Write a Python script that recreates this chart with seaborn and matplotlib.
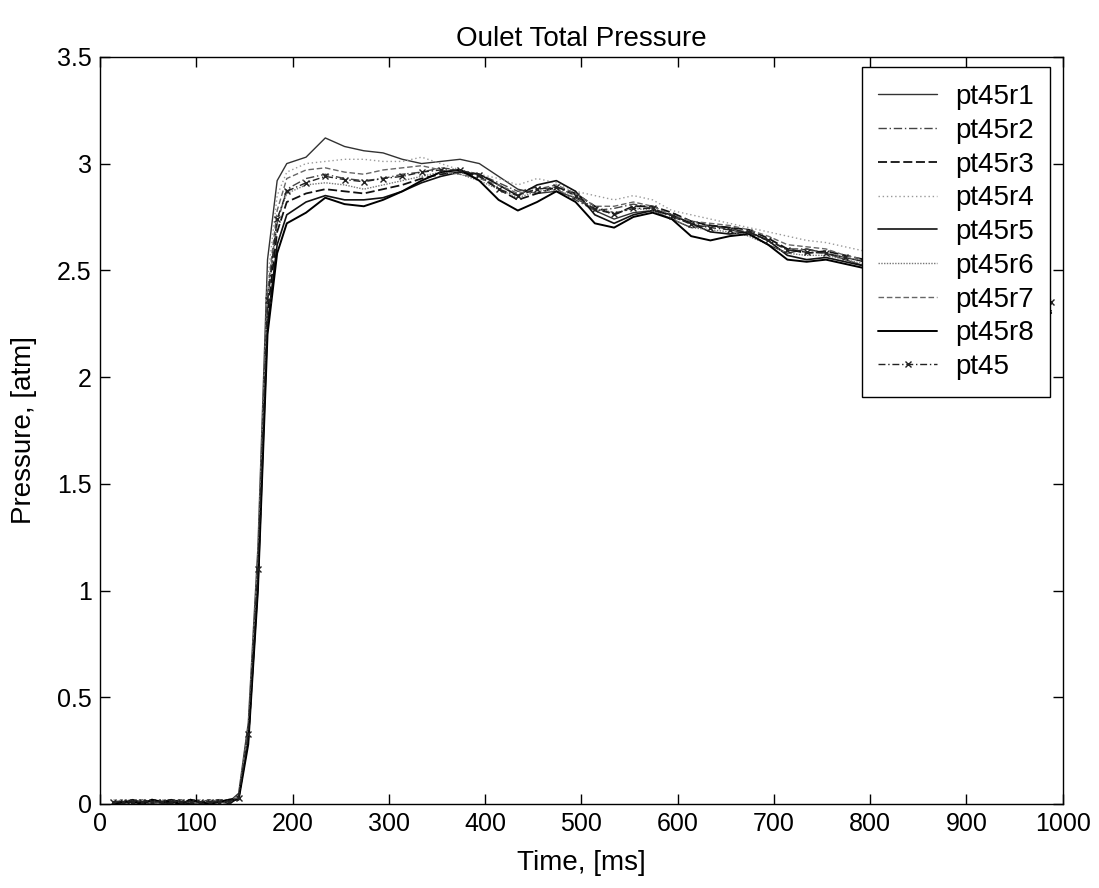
import numpy as np
import pandas as pd
import matplotlib
matplotlib.use("Agg")
import matplotlib.pyplot as plt
import seaborn as sns

# ---- data ----
time_early = [14, 24, 34, 44, 54, 64, 74, 84, 94, 104, 114, 124, 134,
              144, 154, 164, 174, 184, 194]
time_late = [214, 234, 254, 274, 294, 314, 334, 354, 374, 394, 414, 434, 454,
             474, 494, 514, 534, 554, 574, 594, 614, 634, 654, 674, 694, 714,
             734, 754, 774, 794, 814, 834, 854, 874, 894, 914, 934, 954, 974, 988]
time_ms = time_early + time_late

pt45r1 = [0.01, 0.00, 0.02, 0.01, 0.00, 0.01, 0.02, 0.00, 0.01, 0.01, 0.00, 0.02, 0.01,
          0.05, 0.38, 1.20, 2.55, 2.92, 3.00,
          3.03, 3.12, 3.08, 3.06, 3.05, 3.02, 3.00, 3.01, 3.02, 3.00, 2.94, 2.88, 2.86,
          2.87, 2.84, 2.78, 2.74, 2.77, 2.78, 2.74, 2.70, 2.71, 2.70, 2.67, 2.62, 2.58,
          2.60, 2.58, 2.55, 2.52, 2.50, 2.49, 2.46, 2.44, 2.43, 2.41, 2.39, 2.37, 2.35, 2.34]
pt45r2 = [0.00, 0.01, 0.01, 0.02, 0.01, 0.00, 0.01, 0.02, 0.00, 0.01, 0.02, 0.01, 0.00,
          0.03, 0.33, 1.10, 2.35, 2.72, 2.88,
          2.93, 2.95, 2.93, 2.92, 2.93, 2.95, 2.96, 2.98, 2.97, 2.95, 2.91, 2.87, 2.89,
          2.88, 2.83, 2.78, 2.79, 2.81, 2.79, 2.75, 2.72, 2.71, 2.69, 2.67, 2.64, 2.60,
          2.60, 2.58, 2.56, 2.54, 2.52, 2.50, 2.48, 2.46, 2.44, 2.42, 2.40, 2.38, 2.36, 2.35]
pt45r3 = [0.01, 0.01, 0.00, 0.01, 0.02, 0.01, 0.00, 0.01, 0.02, 0.00, 0.01, 0.01, 0.02,
          0.03, 0.30, 1.05, 2.30, 2.68, 2.82,
          2.86, 2.88, 2.87, 2.86, 2.88, 2.90, 2.93, 2.95, 2.96, 2.94, 2.88, 2.83, 2.86,
          2.89, 2.86, 2.80, 2.76, 2.80, 2.80, 2.77, 2.73, 2.71, 2.70, 2.69, 2.65, 2.60,
          2.58, 2.59, 2.57, 2.55, 2.52, 2.50, 2.48, 2.46, 2.44, 2.42, 2.40, 2.38, 2.37, 2.36]
pt45r4 = [0.02, 0.01, 0.00, 0.01, 0.01, 0.02, 0.01, 0.00, 0.01, 0.02, 0.01, 0.00, 0.01,
          0.04, 0.35, 1.15, 2.45, 2.85, 2.96,
          3.00, 3.01, 3.02, 3.02, 3.01, 3.01, 3.03, 3.00, 2.97, 2.95, 2.93, 2.90, 2.93,
          2.91, 2.87, 2.85, 2.83, 2.85, 2.83, 2.78, 2.76, 2.74, 2.72, 2.70, 2.68, 2.66,
          2.64, 2.63, 2.61, 2.59, 2.57, 2.55, 2.53, 2.51, 2.49, 2.47, 2.45, 2.43, 2.42, 2.41]
pt45r5 = [0.00, 0.01, 0.02, 0.00, 0.01, 0.01, 0.02, 0.01, 0.00, 0.01, 0.01, 0.02, 0.00,
          0.03, 0.30, 1.02, 2.25, 2.62, 2.76,
          2.82, 2.85, 2.83, 2.83, 2.84, 2.87, 2.91, 2.94, 2.96, 2.95, 2.90, 2.85, 2.90,
          2.92, 2.87, 2.76, 2.72, 2.76, 2.78, 2.76, 2.72, 2.68, 2.67, 2.68, 2.64, 2.57,
          2.55, 2.56, 2.54, 2.52, 2.50, 2.48, 2.46, 2.44, 2.41, 2.39, 2.37, 2.35, 2.33, 2.31]
pt45r6 = [0.01, 0.02, 0.01, 0.00, 0.01, 0.02, 0.00, 0.01, 0.01, 0.00, 0.02, 0.01, 0.01,
          0.04, 0.34, 1.10, 2.38, 2.74, 2.86,
          2.90, 2.91, 2.90, 2.88, 2.90, 2.92, 2.94, 2.96, 2.95, 2.92, 2.88, 2.84, 2.87,
          2.88, 2.84, 2.79, 2.77, 2.79, 2.78, 2.74, 2.70, 2.69, 2.68, 2.66, 2.62, 2.58,
          2.57, 2.57, 2.55, 2.53, 2.51, 2.49, 2.47, 2.44, 2.42, 2.40, 2.38, 2.36, 2.34, 2.33]
pt45r7 = [0.01, 0.00, 0.01, 0.02, 0.00, 0.01, 0.01, 0.02, 0.01, 0.00, 0.01, 0.02, 0.01,
          0.03, 0.33, 1.12, 2.40, 2.78, 2.93,
          2.97, 2.98, 2.96, 2.95, 2.97, 2.98, 2.99, 2.97, 2.95, 2.93, 2.90, 2.86, 2.88,
          2.90, 2.86, 2.80, 2.80, 2.82, 2.80, 2.76, 2.73, 2.72, 2.71, 2.69, 2.66, 2.62,
          2.61, 2.60, 2.57, 2.55, 2.53, 2.51, 2.49, 2.47, 2.45, 2.43, 2.41, 2.39, 2.37, 2.36]
pt45r8 = [0.00, 0.01, 0.01, 0.00, 0.02, 0.01, 0.01, 0.00, 0.02, 0.01, 0.00, 0.01, 0.02,
          0.02, 0.28, 1.00, 2.20, 2.58, 2.72,
          2.77, 2.84, 2.81, 2.80, 2.83, 2.87, 2.92, 2.96, 2.97, 2.92, 2.83, 2.78, 2.82,
          2.87, 2.82, 2.72, 2.70, 2.75, 2.77, 2.74, 2.66, 2.64, 2.66, 2.67, 2.62, 2.55,
          2.54, 2.55, 2.53, 2.51, 2.49, 2.47, 2.45, 2.42, 2.40, 2.38, 2.36, 2.34, 2.32, 2.30]
pt45 = [0.01, 0.01, 0.01, 0.01, 0.01, 0.01, 0.01, 0.01, 0.01, 0.01, 0.01, 0.01, 0.01,
        0.03, 0.33, 1.10, 2.36, 2.74, 2.87,
        2.91, 2.94, 2.925, 2.915, 2.93, 2.94, 2.96, 2.97, 2.97, 2.945, 2.88, 2.85, 2.88,
        2.89, 2.85, 2.785, 2.765, 2.79, 2.79, 2.755, 2.715, 2.70, 2.69, 2.68, 2.64, 2.595,
        2.585, 2.58, 2.56, 2.54, 2.52, 2.50, 2.48, 2.46, 2.44, 2.42, 2.40, 2.38, 2.36, 2.35]

series_names = ["pt45r1", "pt45r2", "pt45r3", "pt45r4", "pt45r5",
                "pt45r6", "pt45r7", "pt45r8", "pt45"]
series_values = [pt45r1, pt45r2, pt45r3, pt45r4, pt45r5,
                 pt45r6, pt45r7, pt45r8, pt45]

rows = []
for name, vals in zip(series_names, series_values):
    for t, v in zip(time_ms, vals):
        rows.append({"time": t, "pressure": v, "series": name})
df = pd.DataFrame(rows)

# ---- styles ----
styles = {
    "pt45r1": dict(color="#333333", linestyle="-", linewidth=1.0, marker=None),
    "pt45r2": dict(color="#444444", linestyle=(0, (6, 2, 1, 2)), linewidth=1.0, marker=None),
    "pt45r3": dict(color="#111111", linestyle=(0, (5, 2)), linewidth=1.3, marker=None),
    "pt45r4": dict(color="#999999", linestyle=(0, (1, 2)), linewidth=1.0, marker=None),
    "pt45r5": dict(color="#111111", linestyle="-", linewidth=1.2, marker=None),
    "pt45r6": dict(color="#777777", linestyle=(0, (1, 1)), linewidth=1.0, marker=None),
    "pt45r7": dict(color="#666666", linestyle=(0, (4, 2)), linewidth=1.0, marker=None),
    "pt45r8": dict(color="#000000", linestyle="-", linewidth=1.4, marker=None),
    "pt45":   dict(color="#222222", linestyle=(0, (5, 2, 1, 2)), linewidth=1.0, marker="x"),
}

sns.set_theme(style="ticks")
plt.rcParams["font.family"] = ["Liberation Sans", "DejaVu Sans"]
plt.rcParams["text.color"] = "black"
plt.rcParams["axes.labelcolor"] = "black"
plt.rcParams["xtick.color"] = "black"
plt.rcParams["ytick.color"] = "black"

fig = plt.figure(figsize=(10.99, 8.88), dpi=100)
ax = fig.add_axes([0.091, 0.0946, 0.876, 0.8414])

for name in series_names:
    st = styles[name]
    sub = df[df["series"] == name]
    kw = {}
    if st["marker"]:
        kw = dict(marker=st["marker"], markersize=5, markeredgewidth=1.0,
                  markeredgecolor=st["color"], markerfacecolor=st["color"])
    sns.lineplot(data=sub, x="time", y="pressure", ax=ax, label=name,
                 color=st["color"], linestyle=st["linestyle"],
                 linewidth=st["linewidth"], estimator=None, sort=False, **kw)

ax.set_xlim(0, 1000)
ax.set_ylim(0, 3.5)
ax.set_xticks(np.arange(0, 1001, 100))
ax.set_yticks(np.arange(0, 3.51, 0.5))
ax.set_yticklabels(["0", "0.5", "1", "1.5", "2", "2.5", "3", "3.5"])
ax.tick_params(direction="in", length=7, width=1, labelsize=18,
               top=True, right=True, pad=6, colors="black")
for sp in ax.spines.values():
    sp.set_visible(True)
    sp.set_color("black")
    sp.set_linewidth(1.0)

ax.set_xlabel("Time, [ms]", fontsize=20, labelpad=10, color="black")
ax.set_ylabel("Pressure, [atm]", fontsize=20, labelpad=14, color="black")
ax.set_title("Oulet Total Pressure", fontsize=20, pad=8, color="black")

leg = ax.legend(loc="upper right", bbox_to_anchor=(0.987, 0.986),
                borderaxespad=0, fontsize=20, frameon=True, fancybox=False,
                framealpha=1, edgecolor="black", handlelength=2.1,
                labelspacing=0.28, borderpad=0.6, handletextpad=0.65)
leg.get_frame().set_linewidth(1.0)
for txt in leg.get_texts():
    txt.set_color("black")

fig.savefig("out.png", dpi=100, facecolor="white")
